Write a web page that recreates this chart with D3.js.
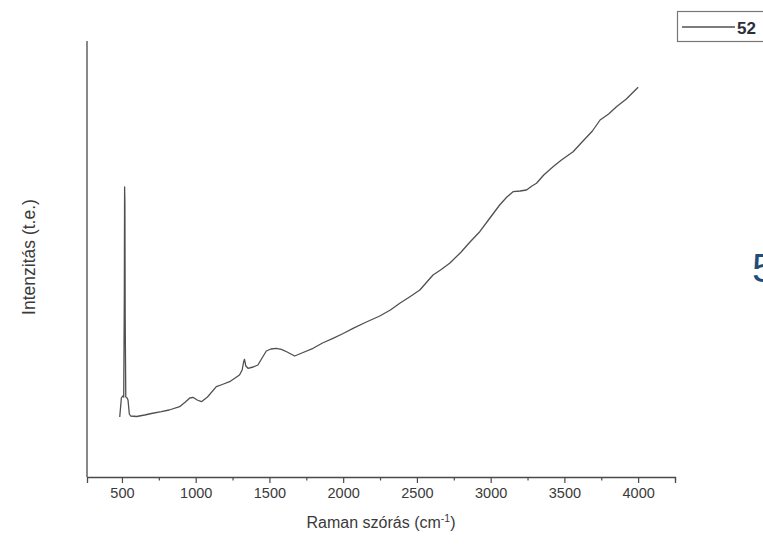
<!DOCTYPE html>
<html>
<head>
<meta charset="utf-8">
<script src="https://cdn.jsdelivr.net/npm/d3@7/dist/d3.min.js"></script>
<style>
  html, body { margin: 0; padding: 0; background: #fff; }
  svg { display: block; }
  text { font-family: "Liberation Sans", Arial, sans-serif; }
</style>
</head>
<body>
<svg id="chart" width="763" height="546"></svg>
<script>
// Raman spectrum: wavenumber (cm^-1) and intensity (arbitrary units)
const wavenumbers = [
  485, 496, 505, 512, 516, 518, 520, 522, 526, 535, 541, 550, 559, 600, 654, 700,
  767, 820, 891, 930, 960, 982, 1010, 1039, 1080, 1140, 1180, 1230, 1297, 1315,
  1325, 1331, 1340, 1355, 1390, 1422, 1450, 1479, 1510, 1547, 1581, 1620, 1671,
  1720, 1796, 1860, 1931, 2000, 2067, 2150, 2248, 2320, 2384, 2450, 2520, 2609,
  2660, 2722, 2800, 2860, 2926, 2990, 3061, 3110, 3152, 3200, 3243, 3280, 3311,
  3360, 3423, 3480, 3559, 3620, 3690, 3742, 3800, 3853, 3920, 4000
];
const intensities = [
  600, 790, 810, 800, 1770, 2900, 2740, 1570, 800, 790, 770, 630, 610, 605, 620, 635,
  653, 670, 703, 750, 790, 797, 770, 753, 800, 903, 925, 953, 1020, 1070,
  1150, 1177, 1110, 1087, 1100, 1120, 1190, 1260, 1280, 1287, 1277, 1250, 1210,
  1240, 1287, 1340, 1387, 1435, 1487, 1545, 1610, 1670, 1737, 1800, 1870, 2020,
  2070, 2137, 2250, 2350, 2453, 2580, 2720, 2800, 2853, 2860, 2870, 2910, 2937,
  3020, 3103, 3170, 3253, 3350, 3460, 3570, 3630, 3703, 3780, 3897
];
const xTicks = [500, 1000, 1500, 2000, 2500, 3000, 3500, 4000];
const xMinorTicks = [750, 1250, 1750, 2250, 2750, 3250, 3750, 4250];
const seriesName = "52";
const xTitle = "Raman szórás (cm";
const yTitle = "Intenzitás (t.e.)";

const spectrum = wavenumbers.map((w, i) => ({ w, v: intensities[i] }));

const svg = d3.select("#chart");
const plot = { left: 87, right: 675, top: 41, bottom: 477 };

const x = d3.scaleLinear().domain([263, 4250]).range([plot.left, plot.right]);
const y = d3.scaleLinear().domain([0, 4360]).range([plot.bottom, plot.top]);

const axisColor = "#4a4a4a";
const textColor = "#3a3a3a";

// Bottom axis with major and minor ticks
const gx = svg.append("g").attr("transform", `translate(0,${plot.bottom})`);
gx.call(d3.axisBottom(x).tickValues(xTicks).tickSize(6).tickPadding(5).tickFormat(d3.format("d")));
gx.append("g").call(d3.axisBottom(x).tickValues(xMinorTicks).tickSize(3.5).tickFormat(""))
  .select(".domain").remove();
gx.selectAll(".domain").attr("stroke", axisColor).attr("stroke-width", 1.3);
gx.selectAll(".tick line").attr("stroke", axisColor).attr("stroke-width", 1.2);
gx.selectAll(".tick text")
  .attr("fill", textColor)
  .style("font-size", "14.5px")
  .style("font-family", "'Liberation Sans', Arial, sans-serif");

// Left axis line (no ticks)
svg.append("line")
  .attr("x1", plot.left).attr("x2", plot.left)
  .attr("y1", plot.top).attr("y2", plot.bottom)
  .attr("stroke", axisColor).attr("stroke-width", 1.3);

// Spectrum line
const line = d3.line().x(d => x(d.w)).y(d => y(d.v));
svg.append("path")
  .datum(spectrum)
  .attr("d", line)
  .attr("fill", "none")
  .attr("stroke", "#505050")
  .attr("stroke-width", 1.3)
  .attr("stroke-linejoin", "round");

// Axis titles
const xt = svg.append("text")
  .attr("x", 381)
  .attr("y", 528)
  .attr("text-anchor", "middle")
  .attr("fill", textColor)
  .style("font-size", "16px");
xt.append("tspan").text(xTitle);
xt.append("tspan").attr("dy", -6).style("font-size", "10.5px").text("-1");
xt.append("tspan").attr("dy", 6).text(")");

svg.append("text")
  .attr("transform", "translate(35,257) rotate(-90)")
  .attr("text-anchor", "middle")
  .attr("fill", textColor)
  .style("font-size", "17.5px")
  .text(yTitle);

// Legend
const lg = svg.append("g");
lg.append("rect")
  .attr("x", 677.5).attr("y", 11.5).attr("width", 100).attr("height", 30)
  .attr("fill", "#fff").attr("stroke", "#777").attr("stroke-width", 1.2);
lg.append("line")
  .attr("x1", 682).attr("x2", 735).attr("y1", 27).attr("y2", 27)
  .attr("stroke", "#505050").attr("stroke-width", 1.3);
lg.append("text")
  .attr("x", 737).attr("y", 34)
  .attr("fill", "#2a2f38")
  .style("font-size", "17px")
  .style("font-weight", "bold")
  .text(seriesName);

// Slide number at right edge
svg.append("text")
  .attr("x", 752).attr("y", 282)
  .attr("fill", "#1f4e79")
  .style("font-size", "41px")
  .style("font-family", "'Liberation Sans', sans-serif")
  .text("5");
</script>
</body>
</html>
